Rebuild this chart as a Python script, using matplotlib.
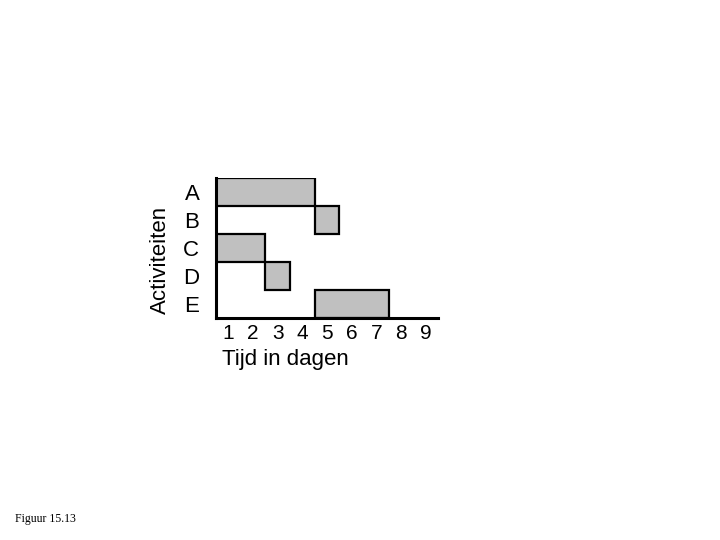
import matplotlib
matplotlib.use("Agg")
import matplotlib.pyplot as plt

activities = ["A", "B", "C", "D", "E"]
starts = [0, 4, 0, 2, 4]
durations = [4, 1, 2, 1, 3]
day_labels = ["1", "2", "3", "4", "5", "6", "7", "8", "9"]

plt.rcParams['font.family'] = ['Liberation Sans', 'DejaVu Sans']

fig = plt.figure(figsize=(7.2, 5.4), dpi=100)
ax = fig.add_axes([216/720, 1-318/540, 222/720, 140/540])

ypos = list(range(len(activities)-1, -1, -1))
ax.barh(ypos, durations, left=starts, height=1.0, color="#c0c0c0",
        edgecolor="black", linewidth=1.6)

ax.set_xlim(0, 9)
ax.set_ylim(-0.5, 4.5)
ax.set_xticks([i + 0.5 for i in range(len(day_labels))])
ax.set_xticklabels(day_labels, fontsize=15)
ax.set_yticks(ypos)
ax.set_yticklabels(activities, fontsize=16)
ax.tick_params(axis='x', length=0, pad=4)
ax.tick_params(axis='y', length=0, pad=12)
for s in ["top", "right"]:
    ax.spines[s].set_visible(False)
for s in ["left", "bottom"]:
    ax.spines[s].set_linewidth(2.2)

ax.set_ylabel("Activiteiten", fontsize=16)
ax.yaxis.set_label_coords(-0.205, 0.414)
ax.text(0.027, -0.30, "Tijd in dagen", transform=ax.transAxes,
        fontsize=16, ha="left", va="center")

fig.text(15/720, 1-519/540, "Figuur 15.13", fontsize=8.5,
         family=["Liberation Serif", "DejaVu Serif"], ha="left", va="center")

fig.savefig("out.png", dpi=100)
